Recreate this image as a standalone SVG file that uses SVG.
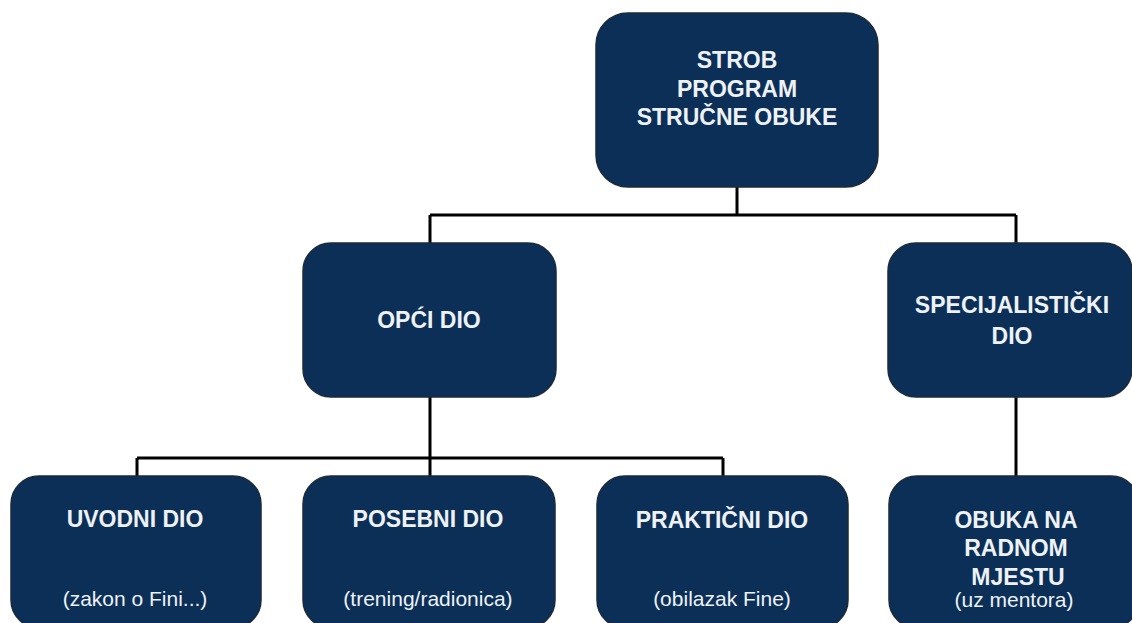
<svg xmlns="http://www.w3.org/2000/svg" width="1132" height="623" viewBox="0 0 1132 623">
<style>
.box{fill:#0b2f57;stroke:#1c2a3a;stroke-width:1.5}
.t{font-family:"Liberation Sans",Arial,sans-serif;font-weight:bold;font-size:23px;fill:#eef2f6;text-anchor:middle}
.s{font-family:"Liberation Sans",Arial,sans-serif;font-size:21px;fill:#eef2f6;text-anchor:middle}
.c{fill:none;stroke:#000;stroke-width:3}
</style>
<rect width="1132" height="623" fill="#fff"/>
<g id="connectors">
<path class="c" d="M737 187V215M430 215H1016M430 215V243M1016 215V243"/>
<path class="c" d="M430 397V476M137 458H723M137 458V476M723 458V476"/>
<path class="c" d="M1016 397V476"/>
</g>
<g id="strob">
<rect class="box" x="596" y="13" width="282" height="174" rx="32"/>
<text class="t" x="737" y="68">STROB</text>
<text class="t" x="737" y="97">PROGRAM</text>
<text class="t" x="737" y="125">STRUČNE OBUKE</text>
</g>
<g id="opci">
<rect class="box" x="303" y="243" width="253" height="154" rx="28"/>
<text class="t" x="429" y="328">OPĆI DIO</text>
</g>
<g id="specijalisticki">
<rect class="box" x="888" y="243" width="244" height="154" rx="28"/>
<text class="t" x="1012" y="313">SPECIJALISTIČKI</text>
<text class="t" x="1012" y="344">DIO</text>
</g>
<g id="uvodni">
<rect class="box" x="11" y="476" width="250" height="152" rx="28"/>
<text class="t" x="135" y="527">UVODNI DIO</text>
<text class="s" x="135" y="606">(zakon o Fini...)</text>
</g>
<g id="posebni">
<rect class="box" x="303" y="476" width="252" height="152" rx="28"/>
<text class="t" x="428" y="527">POSEBNI DIO</text>
<text class="s" x="428" y="606">(trening/radionica)</text>
</g>
<g id="prakticni">
<rect class="box" x="597" y="476" width="251" height="152" rx="28"/>
<text class="t" x="722" y="528">PRAKTIČNI DIO</text>
<text class="s" x="722" y="606">(obilazak Fine)</text>
</g>
<g id="obuka">
<rect class="box" x="889" y="476" width="250" height="152" rx="28"/>
<text class="t" x="1016" y="528">OBUKA NA</text>
<text class="t" x="1016" y="556">RADNOM</text>
<text class="t" x="1018" y="585">MJESTU</text>
<text class="s" x="1014" y="607">(uz mentora)</text>
</g>
</svg>
